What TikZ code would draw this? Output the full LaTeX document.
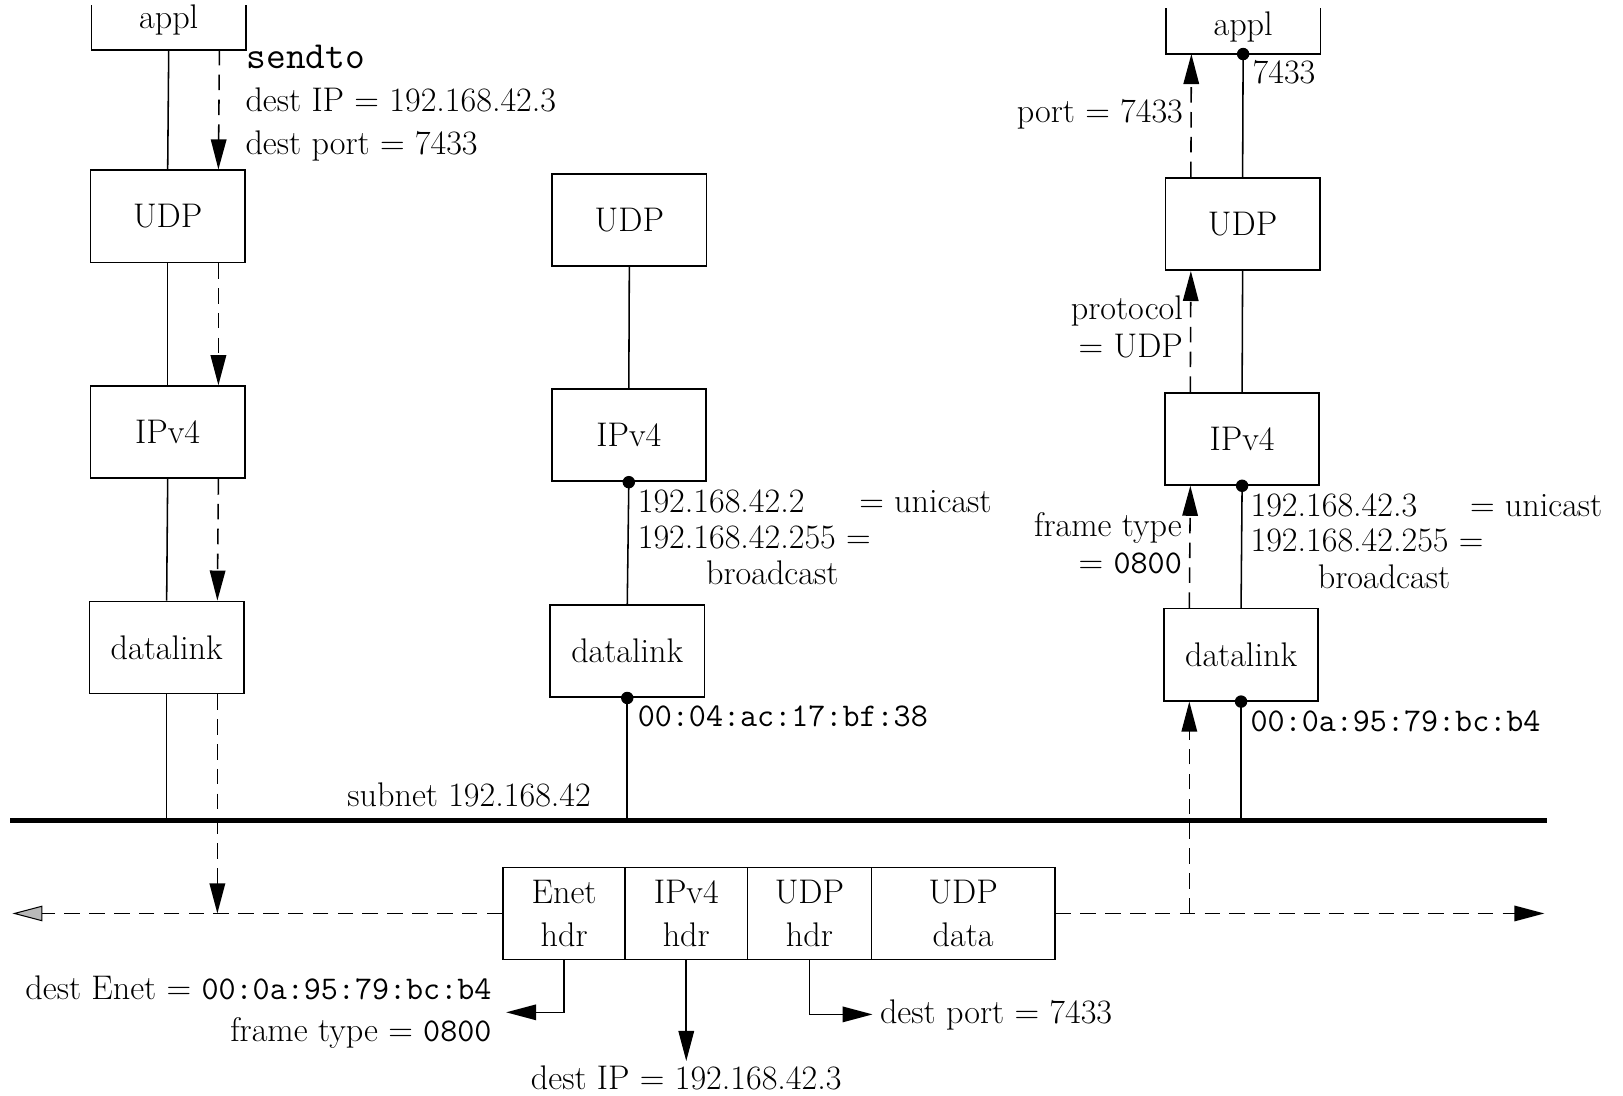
\documentclass[tikz,border=0pt]{standalone}
\usepackage{fontspec}
\usetikzlibrary{arrows.meta}
\newcommand\bigtxt{\fontsize{33}{42}\selectfont}
\newcommand\monotxt{\ttfamily\fontsize{32}{38}\selectfont}
\newcommand\monobig{\ttfamily\fontsize{37}{42}\selectfont}
\begin{document}
\begin{tikzpicture}[x=1pt,y=-1pt,
  box/.style={draw, line width=1.6pt, minimum width=149pt, minimum height=89pt, inner sep=0pt, font=\bigtxt},
  openbox/.style={minimum width=149pt, inner sep=0pt, font=\bigtxt},
  cell/.style={draw, line width=1.6pt, minimum height=89pt, inner sep=0pt, font=\bigtxt, align=center},
  lbl/.style={inner sep=0pt, font=\bigtxt},
  mono/.style={inner sep=0pt, font=\monotxt},
  conn/.style={line width=1.5pt},
  flow/.style={line width=1.5pt, dash pattern=on 15pt off 9pt, -{Triangle[length=29pt,width=15pt]}},
  grayflow/.style={line width=1.5pt, dash pattern=on 15pt off 9pt, -{Triangle[length=29pt,width=15pt,fill=gray!55,line width=1pt]}},
  tipline/.style={line width=1.5pt, -{Triangle[length=29pt,width=15pt]}},
  dot/.style={circle, fill, inner sep=0pt, minimum size=12pt},
]
\useasboundingbox (0,0) rectangle (1568,1058);

% ---------- left host ----------
\node[openbox, minimum height=37pt, text depth=20pt] (lappl) at (163,26.5) {appl};
\draw[line width=1.6pt] (lappl.north west) -- (lappl.south west) -- (lappl.south east) -- (lappl.north east);
\node[box] (ludp) at (162,209) {UDP};
\node[box] (lip) at (162,417.5) {IPv4};
\node[box] (ldl) at (161,625.5) {datalink};

% ---------- middle host ----------
\node[box] (mudp) at (608,212.5) {UDP};
\node[box] (mip) at (607.5,420.5) {IPv4};
\node[box] (mdl) at (606,629) {datalink};

% ---------- right host ----------
\node[openbox, minimum height=44pt, text depth=14pt] (rappl) at (1201,30) {appl};
\draw[line width=1.6pt] (rappl.north west) -- (rappl.south west) -- (rappl.south east) -- (rappl.north east);
\node[box] (rudp) at (1200.5,216.5) {UDP};
\node[box] (rip) at (1200,424) {IPv4};
\node[box] (rdl) at (1199,632.5) {datalink};

% ---------- subnet ----------
\coordinate (subL) at (10,793);
\coordinate (subR) at (1495,793);
\draw[line width=5pt] (subL) -- (subR);
\node[lbl, anchor=base east] (subnet) at (571,779) {subnet 192.168.42};

% ---------- solid stack lines ----------
\draw[conn] (lappl.south) -- (ludp.north);
\draw[conn] (ludp.south) -- (lip.north);
\draw[conn] (lip.south) -- (ldl.north);
\draw[conn] (ldl.south) -- (ldl.south |- subL);

\draw[conn] (mudp.south) -- (mip.north);
\draw[conn] (mip.south) -- (mdl.north);
\draw[conn] (mdl.south) -- (mdl.south |- subL);

\draw[conn] (rappl.south) -- (rudp.north);
\draw[conn] (rudp.south) -- (rip.north);
\draw[conn] (rip.south) -- (rdl.north);
\draw[conn] (rdl.south) -- (rdl.south |- subL);

% dots
\node[dot] (dmip) at (mip.south) {};
\node[dot] (dmdl) at (mdl.south) {};
\node[dot] (drappl) at (rappl.south) {};
\node[dot] (drip) at (rip.south) {};
\node[dot] (drdl) at (rdl.south) {};

% ---------- packet ----------
\node[cell, minimum width=118pt] (enet) at (545,882.5) {Enet\\hdr};
\node[cell, minimum width=118pt] (iphdr) at (663,882.5) {IPv4\\hdr};
\node[cell, minimum width=120pt] (udph) at (782,882.5) {UDP\\hdr};
\node[cell, minimum width=177pt] (udpd) at (930.5,882.5) {UDP\\data};

% ---------- dashed flows ----------
\draw[flow] ([xshift=49pt]lappl.south) -- ([xshift=49pt]ludp.north);
\draw[flow] ([xshift=49pt]ludp.south) -- ([xshift=49pt]lip.north);
\draw[flow] ([xshift=49pt]lip.south) -- ([xshift=49pt]ldl.north);
\coordinate (lflow) at ([xshift=49pt]ldl.south);
\draw[flow] (lflow) -- (lflow |- enet.west);
\coordinate (farL) at (12,882.5);
\draw[grayflow] (enet.west) -- (farL);
\coordinate (farR) at (1492,882.5);
\draw[flow] (udpd.east) -- (farR);
\coordinate (rflow) at ([xshift=-50pt]rdl.south);
\draw[flow] (rflow |- udpd.east) -- (rflow);
\draw[flow] ([xshift=-50pt]rdl.north) -- ([xshift=-50pt]rip.south);
\draw[flow] ([xshift=-50pt]rip.north) -- ([xshift=-50pt]rudp.south);
\draw[flow] ([xshift=-50pt]rudp.north) -- ([xshift=-50pt]rappl.south);

% ---------- header arrows ----------
\coordinate (enetT) at (489,978);
\draw[tipline] (enet.south) |- (enetT);
\coordinate (ipT) at (663,1025);
\draw[tipline] (iphdr.south) -- (ipT);
\coordinate (udpT) at (843,980);
\draw[tipline] (udph.south) |- (udpT);

% ---------- labels: left ----------
\node[inner sep=0pt, font=\monobig, anchor=base west] (sendto) at (238,66) {sendto};
\node[lbl, anchor=base west] (ldestip) at (237,108) {dest IP = 192.168.42.3};
\node[lbl, anchor=base west] (ldestport) at (237,149) {dest port = 7433};

% ---------- labels: middle ----------
\node[lbl, anchor=base west] (mip1) at (616,495) {192.168.42.2};
\node[lbl, anchor=base west] (muni) at (830,495) {= unicast};
\node[lbl, anchor=base west] (mip2) at (616,530) {192.168.42.255 =};
\node[lbl, anchor=base west] (mbc) at (682,565) {broadcast};
\node[mono, anchor=base west] (mmac) at (616,702) {00:04:ac:17:bf:38};

% ---------- labels: right ----------
\node[lbl, anchor=base west] (rport) at (1210,81) {7433};
\node[lbl, anchor=base east] (rport2) at (1143,118) {port = 7433};
\node[lbl, anchor=base east] (rproto) at (1143,309) {protocol};
\node[lbl, anchor=base east] (rproto2) at (1143,345) {= UDP};
\node[lbl, anchor=base east] (rft) at (1142,518) {frame type};
\node[lbl, anchor=base east] (rft2) at (1142,554) {= {\monotxt 0800}};
\node[lbl, anchor=base west] (rip1) at (1208,499) {192.168.42.3};
\node[lbl, anchor=base west] (runi) at (1420,499) {= unicast};
\node[lbl, anchor=base west] (rip2) at (1208,533) {192.168.42.255 =};
\node[lbl, anchor=base west] (rbc) at (1273,569) {broadcast};
\node[mono, anchor=base west] (rmac) at (1208,707) {00:0a:95:79:bc:b4};

% ---------- labels: bottom ----------
\node[lbl, anchor=base east] (bdenet) at (475,966) {dest Enet = {\monotxt 00:0a:95:79:bc:b4}};
\node[lbl, anchor=base east] (bft) at (475,1006) {frame type = {\monotxt 0800}};
\node[lbl, anchor=base] (bdip) at (663,1053) {dest IP = 192.168.42.3};
\node[lbl, anchor=base west] (bdport) at (850,989) {dest port = 7433};
\end{tikzpicture}
\end{document}
